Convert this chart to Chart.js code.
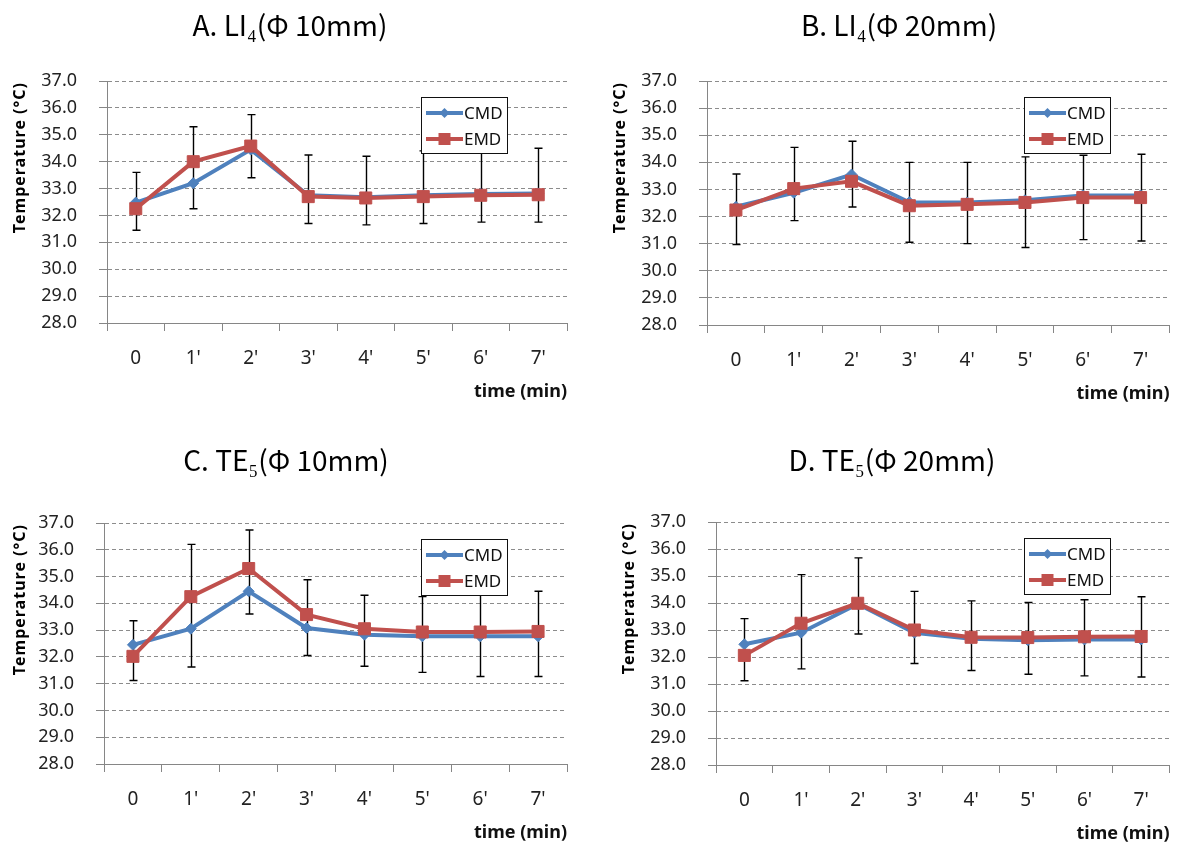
<!DOCTYPE html>
<html>
<head>
<meta charset="utf-8">
<script src="https://cdn.jsdelivr.net/npm/chart.js@4.4.1/dist/chart.umd.min.js"></script>
<style>
  html, body { margin: 0; padding: 0; background: #fff; }
  #wrap { position: relative; width: 1179px; height: 848px; overflow: hidden; }
  canvas { position: absolute; }
</style>
</head>
<body>
<div id="wrap">
  <canvas id="chartA" width="590" height="425" style="left:0;top:0"></canvas>
  <canvas id="chartB" width="579" height="425" style="left:600px;top:0"></canvas>
  <canvas id="chartC" width="590" height="408" style="left:0;top:440px"></canvas>
  <canvas id="chartD" width="570" height="408" style="left:609px;top:440px"></canvas>
</div>
<script>
// time points
const categories = ['0', "1'", "2'", "3'", "4'", "5'", "6'", "7'"];

// A. LI4 (10mm)
const cmdA = [32.48, 33.2, 34.45, 32.75, 32.68, 32.75, 32.8, 32.82];
const emdA = [32.25, 34.0, 34.58, 32.7, 32.65, 32.7, 32.75, 32.77];
const errHiA = [33.6, 35.3, 35.75, 34.25, 34.2, 34.4, 34.45, 34.5];
const errLoA = [31.45, 32.25, 33.4, 31.7, 31.65, 31.7, 31.75, 31.75];

// B. LI4 (20mm)
const cmdB = [32.36, 32.88, 33.55, 32.53, 32.52, 32.6, 32.78, 32.78];
const emdB = [32.24, 33.03, 33.3, 32.4, 32.45, 32.52, 32.7, 32.7];
const errHiB = [33.57, 34.55, 34.78, 34.0, 34.0, 34.2, 34.26, 34.3];
const errLoB = [30.97, 31.85, 32.35, 31.05, 31.0, 30.86, 31.15, 31.1];

// C. TE5 (10mm)
const cmdC = [32.45, 33.05, 34.45, 33.08, 32.83, 32.77, 32.77, 32.77];
const emdC = [32.02, 34.25, 35.3, 33.58, 33.05, 32.93, 32.93, 32.95];
const errHiC = [33.35, 36.2, 36.74, 34.88, 34.3, 34.25, 34.3, 34.45];
const errLoC = [31.12, 31.62, 33.6, 32.05, 31.65, 31.42, 31.27, 31.27];

// D. TE5 (20mm)
const cmdD = [32.47, 32.9, 33.96, 32.9, 32.68, 32.62, 32.65, 32.65];
const emdD = [32.06, 33.25, 33.99, 33.0, 32.73, 32.72, 32.75, 32.76];
const errHiD = [33.42, 35.05, 35.67, 34.43, 34.08, 34.02, 34.12, 34.23];
const errLoD = [31.12, 31.56, 32.85, 31.76, 31.5, 31.36, 31.3, 31.26];

const yMin = 28, yMax = 37, yStep = 1;

const BLUE = '#4F81BD';
const RED = '#C0504D';
const AXIS = '#868686';
const GRID = '#8c8c8c';
const XH = 80; // height of the x axis block

// vertical error bars, drawn under the lines
const errorBars = {
  id: 'errorBars',
  beforeDatasetsDraw(chart, args, o) {
    const { ctx, scales: { x, y } } = chart;
    ctx.save();
    ctx.strokeStyle = '#000';
    ctx.lineWidth = 1.4;
    o.hi.forEach((h, i) => {
      const px = Math.round(x.getPixelForValue(i)) + 0.5;
      const top = y.getPixelForValue(h);
      const bot = y.getPixelForValue(o.lo[i]);
      ctx.beginPath();
      ctx.moveTo(px, top); ctx.lineTo(px, bot);
      ctx.moveTo(px - 4, top); ctx.lineTo(px + 4, top);
      ctx.moveTo(px - 4, bot); ctx.lineTo(px + 4, bot);
      ctx.stroke();
    });
    ctx.restore();
  }
};

// boxed legend inside the plot, top right
const legendBox = {
  id: 'legendBox',
  afterDraw(chart) {
    const { ctx, chartArea } = chart;
    const bx = Math.round(chartArea.right - 146), by = Math.round(chartArea.top + 16);
    const bw = 86, bh = 56;
    ctx.save();
    ctx.fillStyle = '#fff';
    ctx.fillRect(bx, by, bw, bh);
    ctx.strokeStyle = '#111';
    ctx.lineWidth = 1;
    ctx.strokeRect(bx + 0.5, by + 0.5, bw, bh);
    chart.data.datasets.forEach((ds, i) => {
      const cy = by + 16 + i * 26;
      ctx.strokeStyle = ds.borderColor;
      ctx.fillStyle = ds.borderColor;
      ctx.lineWidth = 4;
      ctx.beginPath();
      ctx.moveTo(bx + 5, cy); ctx.lineTo(bx + 42, cy);
      ctx.stroke();
      const mx = bx + 23.5;
      ctx.beginPath();
      if (ds.pointStyle === 'rect') {
        ctx.rect(mx - 6, cy - 6, 12, 12);
      } else {
        ctx.moveTo(mx - 5, cy); ctx.lineTo(mx, cy - 5);
        ctx.lineTo(mx + 5, cy); ctx.lineTo(mx, cy + 5);
        ctx.closePath();
      }
      ctx.fill();
      ctx.fillStyle = '#111';
      ctx.font = '17px "Noto Sans"';
      ctx.textAlign = 'left';
      ctx.textBaseline = 'middle';
      ctx.fillText(ds.label, bx + 43, cy + 1);
    });
    ctx.restore();
  }
};

// panel title and the y axis title
const panelText = {
  id: 'panelText',
  afterDraw(chart, args, o) {
    const { ctx, chartArea } = chart;
    ctx.save();
    ctx.fillStyle = '#000';
    ctx.font = '28px "Noto Sans CJK KR"';
    ctx.textAlign = 'center';
    ctx.textBaseline = 'middle';
    ctx.fillText(o.title, o.tx, o.ty);
    ctx.font = 'bold 16px "Noto Sans"';
    ctx.letterSpacing = '1px';
    ctx.translate(20, chartArea.top + 1);
    ctx.rotate(-Math.PI / 2);
    ctx.textAlign = 'right';
    ctx.fillText('Temperature (°C)', 0, 0);
    ctx.letterSpacing = '0px';
    ctx.restore();
  }
};

function makePanel(p) {
  return new Chart(document.getElementById(p.id), {
    type: 'line',
    data: {
      labels: categories,
      datasets: [
        { label: 'CMD', data: p.cmd, borderColor: BLUE, backgroundColor: BLUE, borderWidth: 4,
          pointStyle: 'rectRot', pointRadius: 5.5, pointBorderWidth: 1, order: 2 },
        { label: 'EMD', data: p.emd, borderColor: RED, backgroundColor: RED, borderWidth: 4,
          pointStyle: 'rect', pointRadius: 8.5, pointBorderWidth: 1, order: 1 }
      ]
    },
    options: {
      responsive: false,
      animation: false,
      devicePixelRatio: 1,
      layout: {
        padding: { left: 0, top: p.top, right: p.w - p.right, bottom: p.h - p.bottom - XH }
      },
      scales: {
        x: {
          offset: true,
          grid: { offset: true, drawOnChartArea: false, color: AXIS, tickLength: 8 },
          border: { color: AXIS },
          ticks: { color: '#222', font: { family: 'Noto Sans', size: 19 }, padding: 16, maxRotation: 0, autoSkip: false },
          title: { display: true, text: 'time (min)', align: 'end', color: '#111',
                   font: { family: 'Noto Sans', size: 18, weight: 'bold' }, padding: 0 },
          afterFit: s => { s.height = XH; }
        },
        y: {
          min: yMin, max: yMax,
          ticks: { stepSize: yStep, callback: v => v.toFixed(1), color: '#222',
                   font: { family: 'Noto Sans', size: 18 }, padding: 22 },
          grid: { color: GRID, tickColor: AXIS, tickLength: 8, tickBorderDash: [] },
          border: { color: AXIS, dash: [4, 3] },
          afterFit: s => { s.width = p.left; }
        }
      },
      plugins: {
        legend: { display: false },
        tooltip: { enabled: false },
        errorBars: { hi: p.hi, lo: p.lo },
        panelText: { title: p.title, tx: p.tx, ty: p.ty }
      }
    },
    plugins: [errorBars, legendBox, panelText]
  });
}

makePanel({ id: 'chartA', cmd: cmdA, emd: emdA, hi: errHiA, lo: errLoA, title: 'A. LI₄(Φ 10mm)',
  tx: 290, ty: 25, w: 590, h: 425, left: 107, right: 567, top: 81, bottom: 323 });
makePanel({ id: 'chartB', cmd: cmdB, emd: emdB, hi: errHiB, lo: errLoB, title: 'B. LI₄(Φ 20mm)',
  tx: 299, ty: 25, w: 579, h: 425, left: 107, right: 574, top: 81, bottom: 325 });
makePanel({ id: 'chartC', cmd: cmdC, emd: emdC, hi: errHiC, lo: errLoC, title: 'C. TE₅(Φ 10mm)',
  tx: 286, ty: 20, w: 590, h: 408, left: 104, right: 567, top: 83, bottom: 324 });
makePanel({ id: 'chartD', cmd: cmdD, emd: emdD, hi: errHiD, lo: errLoD, title: 'D. TE₅(Φ 20mm)',
  tx: 283, ty: 20, w: 570, h: 408, left: 107, right: 568, top: 82, bottom: 325 });
</script>
</body>
</html>
